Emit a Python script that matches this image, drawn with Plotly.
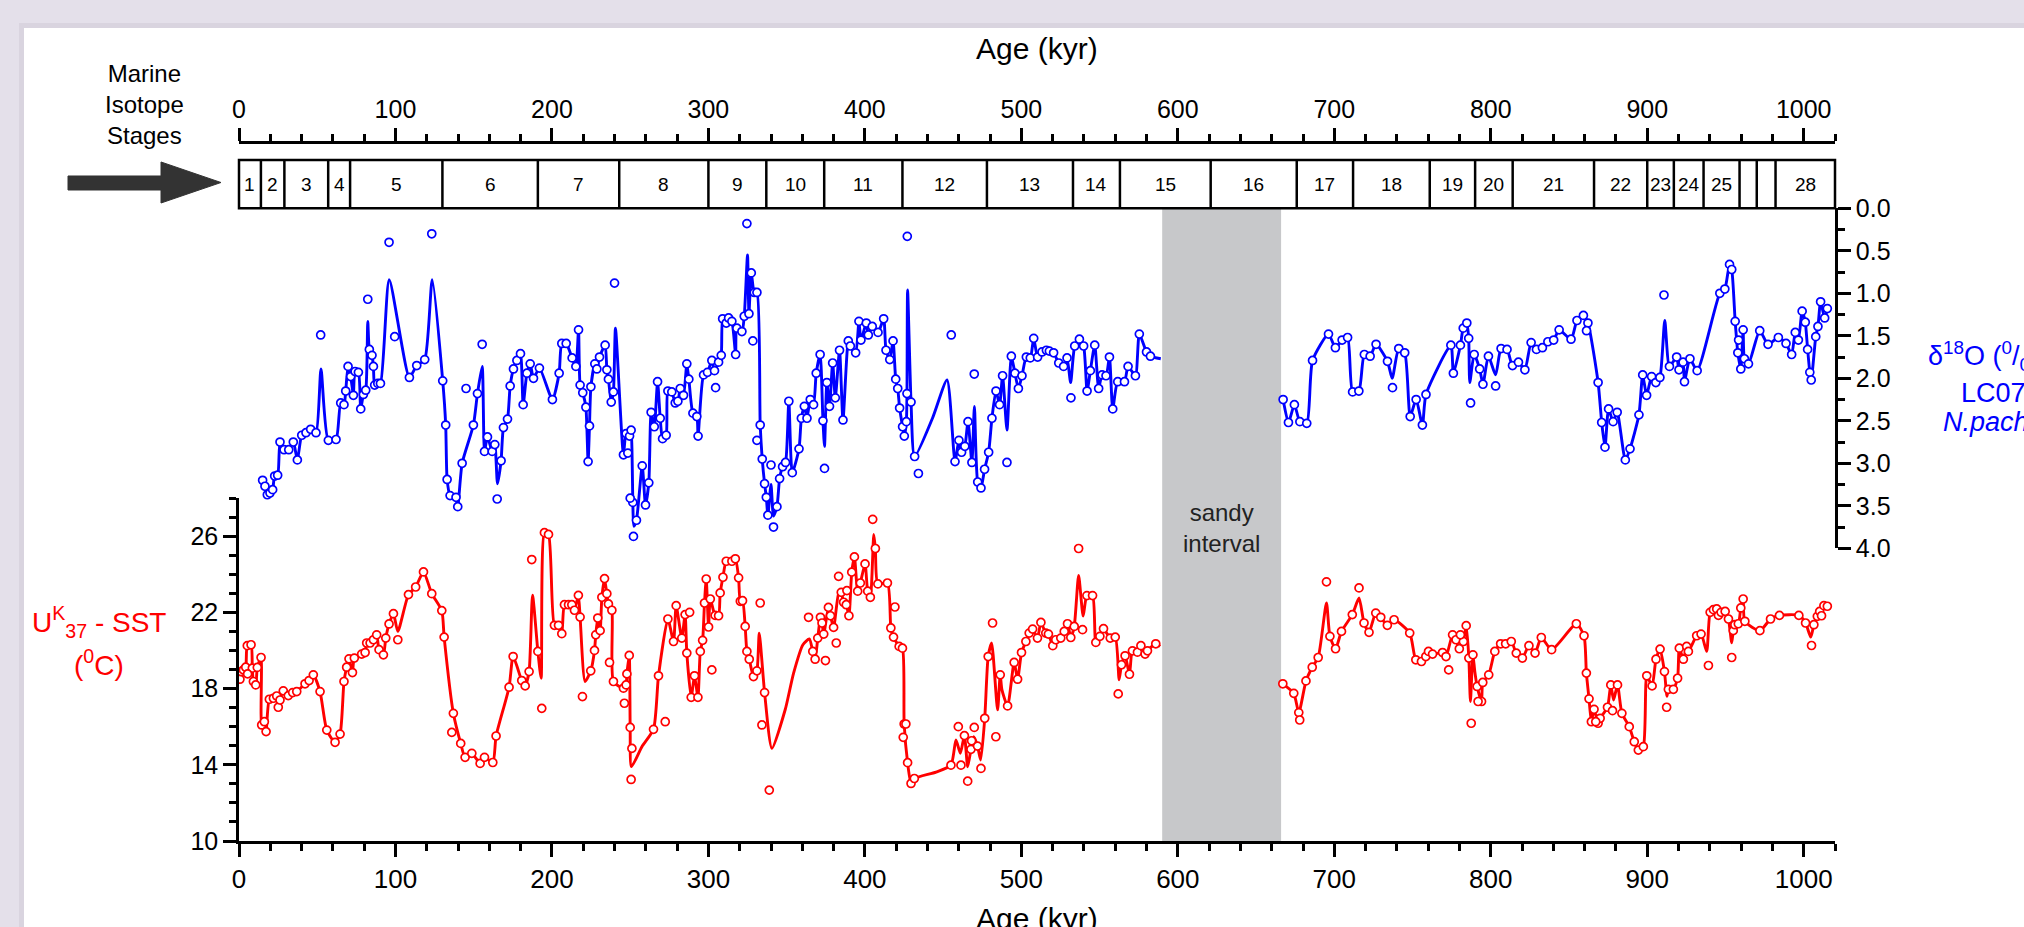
import plotly.graph_objects as go

# ---------------- data ----------------
AGE_RANGE = [0, 1020]
SANDY_INTERVAL = [590, 666]

MIS_BOUNDARIES = [0, 14, 29, 57, 71, 130, 191, 243, 300, 337, 374, 424, 478, 533, 563,
                  621, 676, 712, 761, 790, 814, 866, 900, 917, 936, 959, 970, 982, 1020]
MIS_LABELS = ["1", "2", "3", "4", "5", "6", "7", "8", "9", "10", "11", "12", "13", "14",
              "15", "16", "17", "18", "19", "20", "21", "22", "23", "24", "25", "", "", "28"]

# d18O (N. pachyderma, LC07): samples lying on the smoothed record
D18O_AGE = [15.1, 16.6, 18.1, 19.8, 21.5, 22.8, 24.7, 26.2, 28.8, 31.8, 34.7, 37.3, 40.1, 42.8,
            45.8, 49.2, 57.1, 62.0, 65.0, 67.1, 68.2, 69.7, 71.4, 73.1, 74.2, 76.3, 77.8, 79.5,
            81.0, 83.3, 85.0, 85.9, 86.7, 88.7, 90.4, 108.9, 113.6, 118.7, 130.2, 132.1, 133.0,
            134.9, 138.7, 139.8, 142.6, 149.8, 152.4, 156.9, 158.8, 161.8, 163.5, 167.5, 169.0,
            171.6, 173.3, 175.4, 177.6, 179.9, 181.6, 184.0, 186.1, 188.2, 192.0, 200.3, 204.6,
            206.3, 209.1, 212.9, 215.3, 217.0, 218.0, 219.7, 221.7, 223.1, 224.0, 224.9, 227.4,
            228.7, 230.4, 234.0, 235.1, 236.1, 237.9, 239.3, 245.7, 247.4, 249.6, 250.6, 251.7,
            254.0, 257.7, 259.8, 261.9, 263.4, 265.4, 267.5, 269.2, 270.7, 273.0, 274.1, 276.6,
            278.8, 280.5, 282.0, 284.1, 286.2, 287.5, 290.1, 292.6, 293.4, 296.9, 299.4, 302.2,
            303.9, 306.5, 308.2, 309.1, 311.4, 312.9, 315.0, 317.4, 318.2, 321.4, 322.9, 325.9,
            327.4, 329.3, 331.0, 333.1, 334.4, 335.9, 337.0, 338.0, 343.8, 345.5, 347.4, 349.3,
            351.4, 353.6, 357.9, 359.4, 361.3, 363.0, 365.1, 367.2, 368.9, 371.4, 373.2, 375.7,
            377.4, 379.4, 381.1, 383.8, 386.0, 389.4, 390.7, 394.1, 396.2, 397.5, 400.9, 402.2,
            404.7, 408.4, 412.0, 413.5, 415.9, 418.0, 419.7, 421.0, 422.2, 424.1, 425.2, 426.5,
            426.9, 429.5, 431.8, 457.6, 460.1, 461.8, 463.9, 465.9, 468.4, 472.1, 474.2, 476.5,
            479.1, 481.2, 483.8, 486.1, 488.0, 493.6, 495.9, 498.1, 500.4, 503.2, 505.7, 507.9,
            510.4, 513.2, 516.0, 517.9, 520.6, 523.9, 527.0, 529.2, 534.1, 537.1, 539.8, 542.0,
            544.1, 546.9, 549.4, 551.6, 554.1, 556.3, 558.4, 561.6, 565.9, 568.2, 572.9, 575.4,
            580.0, 582.5,
            667.3, 670.7, 674.5, 678.0, 682.4, 686.1, 696.3, 700.7, 705.0, 708.5, 711.7, 715.7,
            719.2, 722.9, 726.7, 734.0, 741.2, 745.0, 748.5, 752.3, 756.3, 758.6, 774.5, 776.1,
            780.6, 782.4, 784.7, 785.9, 789.4, 792.9, 795.0, 798.5, 806.6, 810.4, 813.9, 817.7,
            821.8, 825.8, 829.2, 833.0, 836.5, 840.2, 843.7, 851.3, 855.1, 859.2, 862.1, 868.6,
            870.9, 873.0, 875.3, 878.2, 880.8, 886.0, 889.0, 894.7, 897.1, 899.6, 902.8, 905.5,
            908.1, 914.2, 918.8, 920.3, 922.9, 923.8, 927.3, 931.9, 946.4, 949.6, 952.6, 954.0,
            956.2, 957.9, 959.8, 961.3, 962.1, 964.7, 971.9, 977.2, 983.8, 988.7, 992.3, 994.6,
            996.6, 999.0, 1001.0, 1002.5, 1003.9, 1004.8, 1007.7, 1009.1, 1010.8, 1013.4, 1015.1]
D18O_VAL = [3.20, 3.27, 3.37, 3.35, 3.31, 3.15, 3.14, 2.75, 2.84, 2.84, 2.75, 2.96, 2.67, 2.64,
            2.60, 2.64, 2.73, 2.72, 2.29, 2.31, 2.15, 1.86, 1.98, 2.20, 1.92, 1.93, 2.36, 2.19,
            2.14, 1.66, 1.73, 1.86, 2.08, 2.06, 2.06, 1.99, 1.85, 1.78, 2.03, 2.55, 3.19,
            3.38, 3.40, 3.51, 3.00, 2.55, 2.18, 2.86, 2.69, 2.86, 2.78, 2.97, 2.58,
            2.48, 2.09, 1.89, 1.79, 1.71, 2.31, 1.94, 1.83, 2.00, 1.88, 2.25, 1.94,
            1.59, 1.59, 1.76, 1.86, 1.43, 2.08, 2.17, 2.34, 2.98, 2.56, 2.10, 1.83,
            1.89, 1.75, 1.61, 1.90, 2.01, 2.28, 2.16, 2.90, 2.65, 2.68, 2.61, 3.46,
            3.67, 3.03, 3.49, 3.23, 2.40, 2.57, 2.04, 2.47, 2.71, 2.67, 2.15, 2.16,
            2.29, 2.27, 2.12, 2.20, 1.83, 2.01, 2.41, 2.45, 2.68, 1.96, 1.93, 1.79,
            1.91, 1.81, 1.73, 1.30, 1.35, 1.29, 1.33, 1.72, 1.41, 1.45, 1.27, 1.24,
            0.76, 0.99, 0.99, 2.55, 2.95, 3.24, 3.40, 3.61, 3.51, 3.18, 3.04, 2.99,
            2.27, 3.11, 2.83, 2.47, 2.33, 2.47, 2.25, 2.31, 1.94, 1.72, 2.50, 2.05,
            2.33, 1.82, 2.23, 1.67, 2.49, 1.56, 1.62, 1.70, 1.33, 1.55, 1.35, 1.49,
            1.39, 1.46, 1.30, 1.67, 1.78, 1.56, 2.01, 2.12, 2.35, 2.57, 2.68, 2.51,
            2.18, 2.28, 2.92, 2.98, 2.73, 2.87, 2.80, 2.51, 2.99, 3.22, 3.29, 3.07,
            2.87, 2.47, 2.15, 2.31, 1.97, 1.74, 1.94, 2.12, 1.97, 1.75, 1.76, 1.53,
            1.75, 1.69, 1.67, 1.68, 1.70, 1.82, 1.86, 1.76, 1.62, 1.54, 1.62, 2.15,
            1.91, 1.61, 2.12, 1.96, 1.97, 1.75, 2.36, 2.04, 2.04, 1.86, 1.97, 1.48,
            1.69, 1.74,
            2.25, 2.52, 2.31, 2.51, 2.53, 1.79, 1.48, 1.64, 1.55, 1.52, 2.16, 2.15,
            1.72, 1.74, 1.60, 1.80, 1.65, 1.70, 2.45, 2.25, 2.55, 2.19, 1.61, 1.94,
            1.61, 1.41, 1.35, 1.53, 1.72, 1.89, 2.07, 1.74, 1.65, 1.66, 1.85, 1.81,
            1.90, 1.58, 1.66, 1.64, 1.57, 1.55, 1.43, 1.54, 1.32, 1.26, 1.35, 2.05,
            2.52, 2.81, 2.36, 2.51, 2.40, 2.96, 2.83, 2.43, 1.96, 2.20, 1.98, 2.05,
            1.99, 1.86, 1.75, 1.90, 1.81, 2.04, 1.77, 1.91, 1.00, 0.95, 0.66, 0.72,
            1.33, 1.70, 1.89, 1.43, 1.77, 1.83, 1.44, 1.60, 1.52, 1.59, 1.72, 1.46,
            1.55, 1.21, 1.34, 1.66, 1.93, 2.02, 1.51, 1.39, 1.10, 1.29, 1.18]

# d18O samples lying off the smoothed record
D18O_OFF_AGE = [52.2, 82.3, 95.9, 99.5, 123.2, 145.1, 155.4, 165.0, 240.0, 248.5, 250.0, 252.1,
                304.6, 324.6, 328.4, 331.0, 340.0, 341.6, 374.2, 427.1, 434.2, 455.2, 469.9,
                490.8, 531.7, 737.2, 787.1, 803.1, 861.2, 910.7, 958.4]
D18O_OFF_VAL = [1.49, 1.07, 0.40, 1.51, 0.30, 2.12, 1.60, 3.42, 0.88, 2.88, 3.41, 3.86,
                2.11, 0.18, 1.56, 2.73, 3.02, 3.75, 3.06, 0.33, 3.12, 1.49, 1.95,
                2.99, 2.23, 2.11, 2.29, 2.09, 1.44, 1.02, 1.55]

# d18O smoothed-record nodes between samples
D18O_FIT_AGE = [52.4, 82.3, 96.0, 123.5, 155.4, 165.2, 240.6, 252.3, 325.0, 340.0, 341.6,
                374.2, 427.3, 443.2, 452.5, 470.0, 490.8, 531.5, 589.1, 737.0, 786.6, 803.1,
                911.2]
D18O_FIT_VAL = [1.89, 1.33, 0.84, 0.84, 1.86, 3.24, 1.41, 3.74, 0.55, 3.25, 3.62,
                2.80, 0.96, 2.47, 2.02, 2.33, 2.61, 2.05, 1.77, 2.00, 2.05, 1.96,
                1.32]

# UK37 SST (degC): samples lying on the smoothed record
SST_AGE = [0.6, 1.3, 2.8, 4.3, 5.3, 7.7, 8.5, 9.2, 10.7, 11.7, 14.1, 14.5, 16.2, 17.3, 19.4,
           22.0, 24.1, 25.1, 26.2, 28.3, 31.5, 34.3, 36.9, 42.2, 44.8, 47.5, 51.8, 56.1, 61.4,
           64.6, 67.1, 68.8, 70.3, 72.5, 73.7, 78.4, 80.6, 81.6, 83.8, 85.9, 88.0, 89.5, 92.3,
           93.8, 95.9, 98.7, 108.3, 112.9, 117.9, 123.2, 129.6, 131.1, 137.0, 141.7, 144.5,
           148.8, 154.1, 156.9, 162.2, 164.3, 172.6, 175.2, 180.7, 182.9, 185.4, 191.0, 195.2,
           197.8, 201.6, 204.2, 206.3, 208.0, 210.6, 212.7, 214.4, 216.9, 218.0, 224.8, 227.2,
           228.0, 229.3, 230.8, 231.9, 233.6, 235.1, 236.1, 238.3, 239.3, 245.7, 247.4, 247.9,
           249.4, 250.0, 264.9, 268.1, 274.1, 277.7, 279.4, 283.0, 285.1, 286.2, 289.0, 291.1,
           293.3, 294.8, 296.3, 297.5, 298.6, 300.1, 301.2, 304.3, 306.5, 307.5, 309.3, 311.4,
           315.0, 317.2, 319.3, 320.4, 321.8, 323.5, 324.6, 326.1, 328.8, 331.0, 335.9, 366.7,
           368.2, 369.9, 371.6, 372.6, 373.7, 376.7, 378.0, 380.0, 384.9, 386.4, 388.1, 389.8,
           391.6, 393.3, 395.4, 397.1, 400.1, 401.8, 403.5, 406.7, 408.3, 414.4, 416.6, 418.3,
           421.9, 424.0, 425.1, 427.3, 429.5, 431.6, 455.0, 463.6, 467.8, 472.0, 476.6, 478.8,
           486.5, 491.2, 495.4, 497.6, 500.1, 502.9, 505.0, 507.2, 510.3, 512.5, 515.6, 517.3,
           520.1, 522.0, 525.2, 527.4, 529.5, 531.6, 533.8, 541.9, 545.5, 547.6, 550.2, 552.5,
           556.8, 560.0, 564.0, 566.3, 569.1, 571.0, 574.2, 576.4, 579.1, 580.6, 585.9,
           667.1, 674.1, 677.3, 681.9, 685.9, 689.7, 697.2, 700.8, 704.6, 711.5, 719.0, 722.2,
           726.5, 729.7, 733.9, 738.2, 748.2, 752.1, 755.7, 758.5, 760.2, 762.8, 769.2, 771.4,
           775.6, 777.8, 779.9, 782.5, 784.3, 786.0, 788.6, 791.3, 794.1, 794.9, 798.7, 802.6,
           806.3, 809.5, 813.1, 816.3, 820.2, 824.4, 828.3, 832.3, 838.9, 854.7, 859.6, 861.1,
           862.8, 864.3, 866.0, 868.6, 869.9, 874.6, 876.7, 881.0, 883.8, 888.5, 891.7, 894.3,
           897.5, 899.7, 903.1, 905.6, 908.2, 911.0, 913.5, 916.7, 919.4, 920.5, 923.1, 925.2,
           926.3, 931.6, 934.4, 940.2, 942.3, 944.4, 945.5, 947.2, 949.8, 951.9, 955.0, 956.0,
           958.2, 959.8, 961.3, 962.4, 972.0, 978.8, 984.5, 996.9, 1001.2, 1006.5, 1008.7,
           1010.2, 1011.4, 1012.9, 1015.1]
SST_VAL = [18.49, 18.89, 18.98, 19.12, 20.25, 20.30, 19.07, 18.37, 18.19, 19.11, 19.63, 16.09,
           16.26, 15.74, 17.44, 17.49, 17.61, 17.02, 17.40, 17.88, 17.63, 17.79, 17.84, 18.25,
           18.42, 18.72, 17.84, 15.82, 15.18, 15.61, 18.37, 19.12, 19.56, 18.84, 19.60, 19.81,
           19.89, 20.39, 20.39, 20.56, 20.82, 20.04, 19.77, 20.65, 21.39, 21.93, 22.93, 23.33,
           24.12, 22.98, 22.09, 20.70, 16.70, 15.12, 14.39, 14.60, 14.07, 14.39, 14.12, 15.51,
           18.07, 19.68, 18.42, 18.14, 18.89, 19.95, 26.18, 26.09, 21.32, 21.32, 20.88, 22.40,
           22.40, 22.40, 22.11, 22.89, 21.75, 18.93, 20.00, 20.82, 21.70, 21.04, 22.79, 23.77,
           22.98, 22.44, 22.11, 18.37, 18.02, 18.19, 18.77, 19.74, 15.96, 15.86, 18.67, 21.65,
           20.47, 22.35, 20.65, 21.88, 19.86, 17.54, 18.67, 17.54, 19.95, 20.53, 22.49, 23.75,
           21.23, 22.70, 21.84, 21.82, 23.02, 23.84, 24.68, 24.68, 24.81, 23.81, 22.58, 22.61,
           21.26, 19.95, 19.54, 18.63, 18.93, 17.79, 19.95, 19.54, 20.65, 21.74, 21.44, 20.86,
           22.26, 21.82, 21.21, 23.05, 22.53, 22.40, 21.82, 24.11, 24.91, 23.11, 23.54, 24.54,
           23.11, 22.79, 25.35, 23.49, 23.54, 21.18, 20.70, 20.21, 20.12, 16.14, 14.11, 13.02,
           13.28, 13.98, 15.53, 14.81, 14.98, 16.44, 19.68, 18.72, 17.09, 19.37, 18.49, 19.89,
           20.47, 20.91, 21.12, 20.65, 21.47, 20.91, 20.86, 20.25, 20.56, 20.65, 21.00, 21.40,
           20.68, 21.26, 22.88, 22.88, 20.42, 20.74, 21.14, 20.65, 20.70, 19.25, 19.72, 18.75,
           19.98, 19.91, 20.25, 19.81, 19.98, 20.35,
           18.25, 17.75, 16.74, 18.40, 19.12, 19.63, 20.74, 20.09, 21.00, 21.88, 21.44, 20.95,
           21.96, 21.74, 21.32, 21.61, 20.91, 19.51, 19.42, 19.68, 19.95, 19.81, 19.89, 19.68,
           20.82, 20.56, 20.09, 20.47, 21.30, 19.60, 19.77, 18.11, 17.32, 18.32, 18.72, 19.95,
           20.35, 20.35, 20.47, 19.86, 19.60, 20.25, 19.86, 20.68, 20.04, 21.40, 20.77, 18.81,
           17.46, 16.26, 16.91, 16.18, 16.44, 17.02, 18.19, 18.19, 16.70, 16.00, 15.21, 14.77,
           14.95, 18.67, 18.14, 19.54, 20.07, 18.89, 17.96, 17.96, 18.54, 20.12, 19.54, 20.21,
           19.95, 20.77, 20.86, 22.00, 22.14, 22.18, 21.84, 22.00, 22.05, 21.65, 21.04, 21.35,
           21.40, 22.23, 22.70, 21.53, 21.04, 21.65, 21.84, 21.84, 21.44, 21.35, 21.79,
           22.05, 21.82, 22.35, 22.32]

# SST samples lying off the smoothed record
SST_OFF_AGE = [5.5, 101.5, 136.0, 187.1, 193.5, 219.5, 236.8, 246.3, 250.6, 251.1, 272.4, 288.0,
               302.2, 333.1, 334.2, 338.9, 364.0, 374.8, 381.7, 383.2, 388.5, 405.0, 419.2,
               424.5, 426.2, 459.7, 461.4, 465.7, 468.2, 469.9, 474.2, 481.6, 483.7, 536.6,
               539.1, 561.9, 677.9, 695.0, 715.8, 773.1, 780.6, 787.5, 791.9, 867.1, 877.8,
               912.4, 939.1, 954.0, 1005.0]
SST_OFF_VAL = [18.77, 20.56, 15.70, 24.77, 16.96, 17.58, 19.37, 17.23, 13.23, 14.86, 16.26, 22.00,
               18.98, 22.49, 16.09, 12.67, 21.74, 19.47, 20.39, 23.89, 23.14, 26.88, 22.28,
               15.44, 16.14, 16.00, 13.98, 13.14, 15.26, 15.96, 13.81, 21.44, 15.47, 25.35,
               21.09, 17.72, 16.35, 23.60, 23.28, 18.98, 20.82, 16.18, 17.32, 16.26, 16.84,
               17.02, 19.21, 19.63, 20.26]

# SST smoothed-record nodes between samples
SST_FIT_AGE = [101.5, 187.6, 193.1, 221.2, 250.8, 257.5, 332.5, 340.6, 349.1, 354.4, 360.4,
               364.5, 383.5, 405.7, 445.5, 458.2, 461.0, 465.7, 469.6, 474.0, 481.0, 484.8,
               487.6, 536.6, 539.5, 562.5, 588.7, 695.0, 715.8, 787.0, 789.8, 878.5, 912.6,
               938.0, 954.0, 1004.5]
SST_FIT_VAL = [21.0, 22.9, 18.54, 18.37, 13.9, 14.95, 20.9, 14.86, 16.9, 18.8, 20.3,
               20.6, 23.1, 26.09, 13.62, 15.30, 14.60, 13.90, 15.47, 14.25, 20.39, 16.88,
               17.93, 23.93, 21.8, 18.46, 20.21, 22.49, 22.75, 17.32, 18.9, 17.4, 17.6,
               19.95, 20.4, 20.7]

# ---------------- page geometry (pixels) ----------------
W, H = 2024, 927
PL, PR = 239, 1835          # plot area left / right
PT, PB = 142, 841           # plot area top / bottom
FONT = "Liberation Sans, Arial, Helvetica, sans-serif"
BLUE, RED = "#0000ff", "#ff0000"


def px(x):
    return (x - PL) / (PR - PL)


def py(y):
    return (PB - y) / (PB - PT)


def smoothed(on_a, on_v, fit_a, fit_v):
    """Merge on-record samples with fit nodes; break across the sandy interval."""
    pts = sorted(zip(on_a + fit_a, on_v + fit_v))
    xs, ys, prev = [], [], None
    for a, v in pts:
        if prev is not None and prev < SANDY_INTERVAL[0] and a > SANDY_INTERVAL[1]:
            xs.append(None)
            ys.append(None)
        xs.append(a)
        ys.append(v)
        prev = a
    return xs, ys


fig = go.Figure()

# smoothed records
dx, dy = smoothed(D18O_AGE, D18O_VAL, D18O_FIT_AGE, D18O_FIT_VAL)
fig.add_trace(go.Scatter(x=dx, y=dy, mode="lines", xaxis="x", yaxis="y2",
                         line=dict(color=BLUE, width=2.9, shape="spline", smoothing=0.6),
                         connectgaps=False, hoverinfo="skip"))
sx, sy = smoothed(SST_AGE, SST_VAL, SST_FIT_AGE, SST_FIT_VAL)
fig.add_trace(go.Scatter(x=sx, y=sy, mode="lines", xaxis="x", yaxis="y",
                         line=dict(color=RED, width=2.9, shape="spline", smoothing=0.6),
                         connectgaps=False, hoverinfo="skip"))

# samples
fig.add_trace(go.Scatter(x=D18O_AGE + D18O_OFF_AGE, y=D18O_VAL + D18O_OFF_VAL, mode="markers",
                         xaxis="x", yaxis="y2", hoverinfo="skip",
                         marker=dict(symbol="circle", size=8, color="white",
                                     line=dict(color=BLUE, width=1.7))))
fig.add_trace(go.Scatter(x=SST_AGE + SST_OFF_AGE, y=SST_VAL + SST_OFF_VAL, mode="markers",
                         xaxis="x", yaxis="y", hoverinfo="skip",
                         marker=dict(symbol="circle", size=8, color="white",
                                     line=dict(color=RED, width=1.7))))

# carrier for the top age axis
fig.add_trace(go.Scatter(x=AGE_RANGE, y=[None, None], xaxis="x2", yaxis="y",
                         mode="lines", hoverinfo="skip", showlegend=False))

shapes = []
# page card
shapes.append(dict(type="rect", xref="paper", yref="paper", layer="below",
                   x0=px(19), x1=px(2200), y0=py(1100), y1=py(23),
                   fillcolor="#d9d4df", line=dict(width=0)))
shapes.append(dict(type="rect", xref="paper", yref="paper", layer="below",
                   x0=px(24), x1=px(2200), y0=py(1100), y1=py(28),
                   fillcolor="white", line=dict(width=0)))
# sandy interval band
shapes.append(dict(type="rect", xref="x", yref="paper", layer="below",
                   x0=SANDY_INTERVAL[0], x1=SANDY_INTERVAL[1], y0=0, y1=py(208.3),
                   fillcolor="#c7c8ca", line=dict(width=0)))
# marine isotope stage strip
BOX_T, BOX_B = 160, 208.3
shapes.append(dict(type="rect", xref="paper", yref="paper", x0=0, x1=1,
                   y0=py(BOX_B), y1=py(BOX_T), line=dict(color="black", width=2.5)))
for b in MIS_BOUNDARIES[1:-1]:
    shapes.append(dict(type="line", xref="x", yref="paper", x0=b, x1=b,
                       y0=py(BOX_B), y1=py(BOX_T), line=dict(color="black", width=2.5)))
# arrow pointing at the strip
arrow_px = [(68, 176), (161, 176), (161, 162), (221, 182.5), (161, 203), (161, 190), (68, 190)]
path = "M " + " L ".join(f"{px(x):.5f},{py(y):.5f}" for x, y in arrow_px) + " Z"
shapes.append(dict(type="path", xref="paper", yref="paper", path=path,
                   fillcolor="#333333", line=dict(color="#333333", width=1)))

annotations = []
for i, lab in enumerate(MIS_LABELS):
    if lab:
        annotations.append(dict(x=(MIS_BOUNDARIES[i] + MIS_BOUNDARIES[i + 1]) / 2, xref="x",
                                y=py((BOX_T + BOX_B) / 2), yref="paper", text=lab,
                                showarrow=False, font=dict(size=19, color="black", family=FONT),
                                xanchor="center", yanchor="middle"))


def note(x, y, text, size, color="black", xanchor="center", yanchor="middle", xref="paper"):
    annotations.append(dict(x=x, y=y, xref=xref, yref="paper", text=text, showarrow=False,
                            font=dict(size=size, color=color, family=FONT),
                            xanchor=xanchor, yanchor=yanchor, align="center"))


note(0.5, py(48), "Age (kyr)", 30)
note(0.5, py(900), "Age (kyr)", 30, yanchor="top")
note(px(144), py(105), "Marine<br>Isotope<br>Stages", 24)
note(sum(SANDY_INTERVAL) / 2, py(528), "sandy<br>interval", 24, color="#222222", xref="x")
note(px(99), py(622), "U<sup>K</sup><sub>37</sub> - SST", 28, color=RED)
note(px(99), py(663), "(<sup>0</sup>C)", 28, color=RED)
note(px(1926), py(356), "δ<sup>18</sup>O (<sup>0</sup>/<sub>00</sub>)", 27, color=BLUE, xanchor="left")
note(px(1959), py(393), "LC07", 27, color=BLUE, xanchor="left")
note(px(1941), py(422), "<i>N.pachyderma</i>", 27, color=BLUE, xanchor="left")

axis_common = dict(showgrid=False, zeroline=False, showline=True, linecolor="black",
                   linewidth=2.6, ticks="outside", ticklen=13, tickwidth=2.5,
                   tickcolor="black")

fig.update_layout(
    width=W, height=H, autosize=False,
    margin=dict(l=PL, r=W - PR, t=PT, b=H - PB, pad=0),
    paper_bgcolor="#e4e0ea", plot_bgcolor="rgba(0,0,0,0)",
    showlegend=False, hovermode=False,
    font=dict(family=FONT, color="black"),
    xaxis=dict(range=AGE_RANGE, domain=[0, 1], anchor="y", dtick=100, tick0=0,
               tickfont=dict(size=26, family=FONT),
               minor=dict(dtick=20, ticklen=7, tickwidth=2.5, ticks="outside", tickcolor="black"),
               **axis_common),
    xaxis2=dict(range=AGE_RANGE, overlaying="x", anchor="free", position=1, side="top",
                dtick=100, tick0=0, tickfont=dict(size=25, family=FONT),
                minor=dict(dtick=20, ticklen=7, tickwidth=2.5, ticks="outside", tickcolor="black"),
                **axis_common),
    yaxis=dict(range=[10, 28], domain=[0, py(498)], anchor="x", tick0=10, dtick=4,
               tickfont=dict(size=25, family=FONT),
               minor=dict(dtick=1, ticklen=7, tickwidth=2.5, ticks="outside", tickcolor="black"),
               **axis_common),
    yaxis2=dict(range=[4, 0], domain=[py(548.3), py(208.3)], anchor="x", side="right",
                tick0=0, dtick=0.5, tickformat=".1f", tickfont=dict(size=25, family=FONT),
                minor=dict(dtick=0.25, ticklen=7, tickwidth=2.5, ticks="outside", tickcolor="black"),
                **axis_common),
    shapes=shapes,
    annotations=annotations,
)

fig.write_html("out.html", config={"displayModeBar": False})
